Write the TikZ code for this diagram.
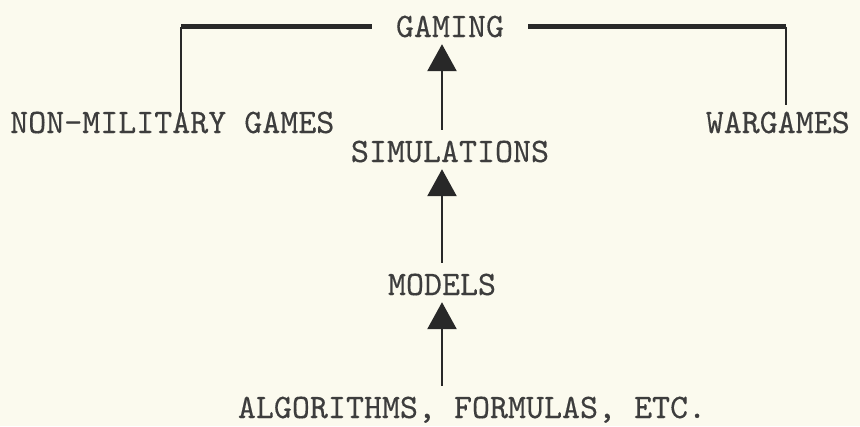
\documentclass[tikz,border=0pt]{standalone}
\usepackage{fontspec}
\newfontfamily\typew[FakeBold=0.3]{lmmono10-regular.otf}
\usetikzlibrary{arrows.meta,positioning}

\definecolor{paper}{RGB}{251,250,238}
\definecolor{ink}{RGB}{40,40,40}

\tikzset{
  lbl/.style={font=\typew\fontsize{34.3}{34.3}\selectfont, text=ink!90,
              inner sep=0pt, text height=21pt, text depth=0pt, anchor=base},
  uparrow/.style={draw=ink, line width=2.6pt,
                  -{Triangle[width=29pt,length=27pt]},
                  shorten >=7pt, shorten <=11pt},
  topbar/.style={draw=ink, line width=4.2pt},
  dropbar/.style={draw=ink, line width=1.8pt},
}

\begin{document}
\begin{tikzpicture}[x=1pt, y=-1pt]
        \useasboundingbox[fill=paper] (0,0) rectangle (860,426);

        \node[lbl, inner xsep=24pt] (gaming) at (450,37) {GAMING};
        \node[lbl, anchor=base west] (nonmil) at (10,133) {NON-MILITARY GAMES};
        \node[lbl, anchor=base east] (wargames) at (850,133) {WARGAMES};
        \node[lbl] (sims) at (450,162) {SIMULATIONS};
        \node[lbl] (models) at (442,295) {MODELS};
        \node[lbl] (algos) at (472,418) {ALGORITHMS, FORMULAS, ETC.};

        % x of the arrows and of the two drops
        \coordinate (spine) at (442,0);
        \coordinate (ldrop) at (181,0);
        \coordinate (rdrop) at (786,0);

        \draw[topbar] (gaming.west) -- (gaming.west -| ldrop)
                (gaming.east) -- (gaming.east -| rdrop);
        \draw[dropbar] (gaming.west -| ldrop) -- (nonmil.north -| ldrop);
        \draw[dropbar, shorten >=7pt] (gaming.east -| rdrop) -- (wargames.north -| rdrop);

        \draw[uparrow] (sims.north -| spine) -- (gaming.south -| spine);
        \draw[uparrow] (models.north -| spine) -- (sims.south -| spine);
        \draw[uparrow] (algos.north -| spine) -- (models.south -| spine);
\end{tikzpicture}
\end{document}
